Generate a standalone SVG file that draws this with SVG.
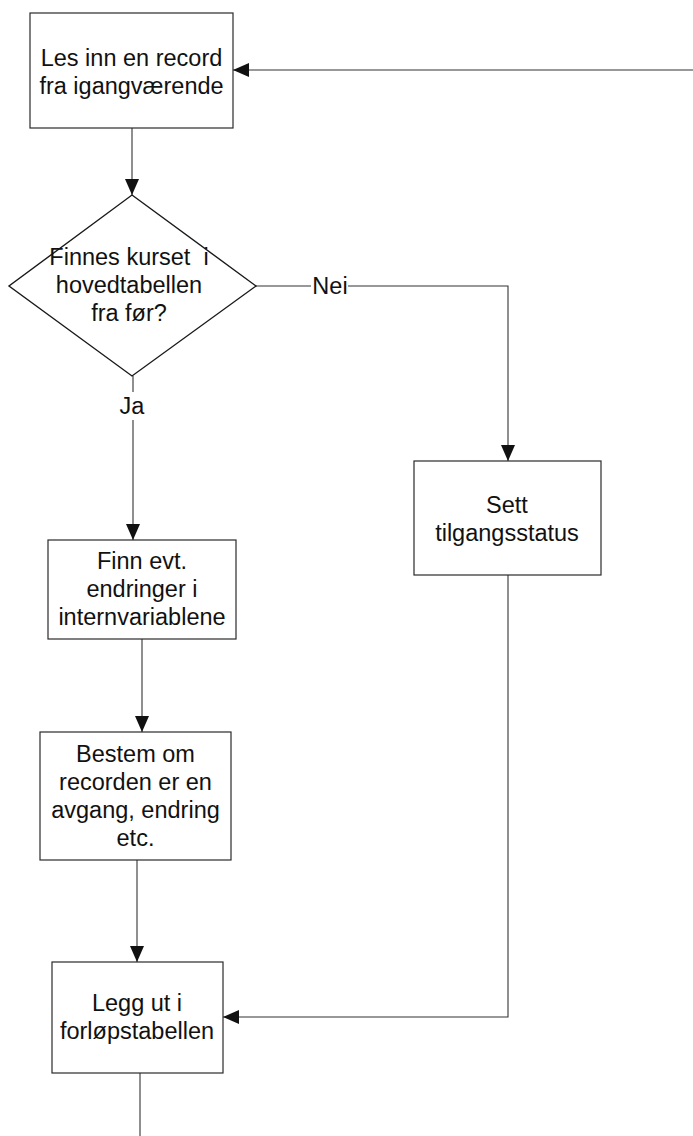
<svg xmlns="http://www.w3.org/2000/svg" width="693" height="1136" viewBox="0 0 693 1136">
<defs>
<style>
.box{fill:#fff;stroke:#2a2a2a;stroke-width:1.2}
.dia{fill:#fff;stroke:#1a1a1a;stroke-width:1.4}
.ln{fill:none;stroke:#333;stroke-width:1.1}
.t{font-family:"Liberation Sans",Arial,sans-serif;font-size:23.5px;fill:#111;text-anchor:middle}
</style>
<marker id="arr" viewBox="0 0 16 14" refX="16" refY="7" markerWidth="16" markerHeight="14" markerUnits="userSpaceOnUse" orient="auto">
<path d="M0,0 L16,7 L0,14 Z" fill="#111"/>
</marker>
</defs>
<rect width="693" height="1136" fill="#fff"/>
<g id="connectors">
<line class="ln" x1="693" y1="70" x2="233" y2="70" marker-end="url(#arr)"/>
<line class="ln" x1="132" y1="128" x2="132" y2="195" marker-end="url(#arr)"/>
<line class="ln" x1="256" y1="286" x2="311" y2="286"/>
<polyline class="ln" points="348,286 508,286 508,461" marker-end="url(#arr)"/>
<line class="ln" x1="133" y1="376" x2="133" y2="392"/>
<line class="ln" x1="133" y1="420" x2="133" y2="540" marker-end="url(#arr)"/>
<line class="ln" x1="142" y1="639" x2="142" y2="732" marker-end="url(#arr)"/>
<line class="ln" x1="137" y1="860" x2="137" y2="962" marker-end="url(#arr)"/>
<polyline class="ln" points="508,575 508,1017 223,1017" marker-end="url(#arr)"/>
<line class="ln" x1="140" y1="1073" x2="140" y2="1136"/>
<text class="t" x="330" y="294">Nei</text>
<text class="t" x="132" y="414">Ja</text>
</g>
<g id="n1">
<rect class="box" x="30" y="13" width="203" height="115"/>
<text class="t" x="131.5" y="66">Les inn en record</text>
<text class="t" x="131.5" y="94">fra igangværende</text>
</g>
<g id="n2">
<polygon class="dia" points="132,195 256,286 132,376 9,286"/>
<text class="t" x="129" y="265" xml:space="preserve">Finnes kurset  i</text>
<text class="t" x="129" y="293">hovedtabellen</text>
<text class="t" x="129" y="321">fra før?</text>
</g>
<g id="n3">
<rect class="box" x="414" y="461" width="187" height="114"/>
<text class="t" x="507" y="513">Sett</text>
<text class="t" x="507" y="541">tilgangsstatus</text>
</g>
<g id="n4">
<rect class="box" x="48" y="540" width="188" height="99"/>
<text class="t" x="142" y="569">Finn evt.</text>
<text class="t" x="142" y="597">endringer i</text>
<text class="t" x="142" y="625">internvariablene</text>
</g>
<g id="n5">
<rect class="box" x="40" y="732" width="191" height="128"/>
<text class="t" x="135.5" y="762">Bestem om</text>
<text class="t" x="135.5" y="790">recorden er en</text>
<text class="t" x="135.5" y="818">avgang, endring</text>
<text class="t" x="135.5" y="846">etc.</text>
</g>
<g id="n6">
<rect class="box" x="52" y="962" width="171" height="111"/>
<text class="t" x="137" y="1011">Legg ut i</text>
<text class="t" x="137" y="1039">forløpstabellen</text>
</g>
</svg>
